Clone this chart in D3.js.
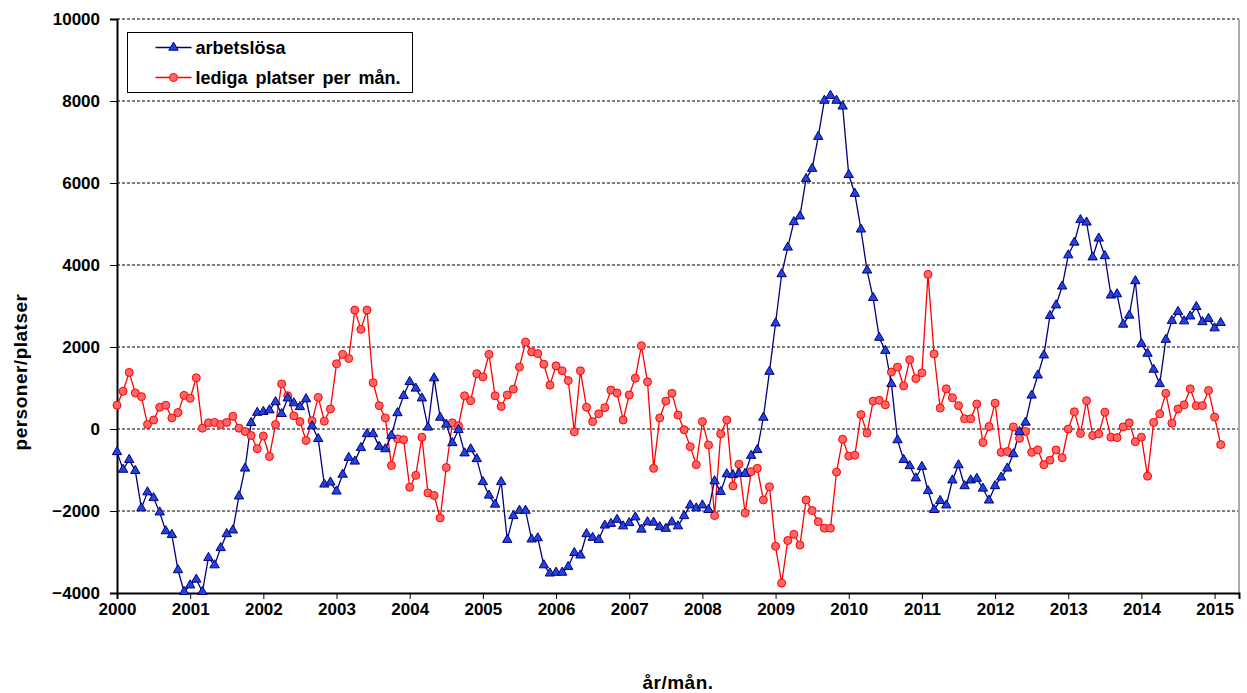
<!DOCTYPE html>
<html>
<head>
<meta charset="utf-8">
<script src="https://cdn.jsdelivr.net/npm/d3@7"></script>
<style>
  body { margin: 0; background: #fff; }
  text { font-family: Arial, "Liberation Sans", sans-serif; font-weight: bold; }
</style>
</head>
<body>
<div id="chart"></div>
<script>
// monthly values, Jan 2000 .. Feb 2015
const arbetslosa = [
  -560,-990,-750,-1020,-1930,-1540,-1680,-2030,-2490,-2580,-3440,-3970,
  -3810,-3670,-3970,-3140,-3320,-2900,-2560,-2470,-1640,-960,150,400,
  420,460,660,370,750,630,540,730,70,-240,-1350,-1300,
  -1520,-1110,-700,-790,-460,-120,-120,-430,-490,-160,390,810,
  1150,990,750,40,1240,280,110,-340,-20,-590,-490,-730,
  -1290,-1620,-1840,-1290,-2700,-2120,-1990,-1990,-2690,-2660,-3320,-3520,
  -3500,-3500,-3360,-3020,-3080,-2560,-2650,-2700,-2350,-2310,-2210,-2370,
  -2290,-2150,-2450,-2270,-2280,-2390,-2430,-2270,-2370,-2120,-1860,-1930,
  -1860,-1970,-1270,-1530,-1100,-1120,-1090,-1090,-650,-510,280,1400,
  2580,3780,4430,5050,5190,6100,6350,7130,8010,8130,8010,7870,
  6200,5740,4870,3870,3200,2230,1910,1100,-270,-750,-900,-1200,
  -920,-1510,-1970,-1750,-1860,-1250,-880,-1390,-1250,-1210,-1450,-1740,
  -1390,-1180,-960,-610,-70,160,820,1310,1800,2760,3020,3480,
  4240,4550,5100,5040,4190,4650,4220,3260,3290,2550,2770,3610,
  2080,1840,1450,1100,2180,2640,2860,2630,2750,2980,2610,2690,
  2460,2590
];
const lediga = [
  580,920,1380,880,790,110,220,530,580,270,400,820,
  750,1250,20,150,160,110,160,310,20,-60,-160,-480,
  -170,-670,110,1100,810,320,180,-280,200,770,190,490,
  1590,1820,1720,2900,2430,2900,1130,570,270,-890,-240,-260,
  -1420,-1130,-200,-1560,-1620,-2170,-940,150,80,810,690,1350,
  1270,1820,810,550,830,970,1510,2120,1880,1840,1580,1070,
  1540,1420,1180,-70,1420,530,180,370,520,950,880,220,
  830,1240,2030,1150,-960,270,680,870,340,-20,-430,-870,
  180,-390,-2110,-120,220,-1390,-860,-2050,-1040,-960,-1730,-1410,
  -2860,-3760,-2720,-2570,-2830,-1730,-1990,-2260,-2420,-2420,-1050,-250,
  -660,-640,350,-100,680,700,590,1390,1510,1050,1690,1230,
  1370,3770,1830,510,980,760,570,250,250,610,-330,60,
  630,-570,-550,50,-230,-60,-570,-510,-870,-760,-510,-700,
  0,420,-110,690,-160,-120,410,-200,-210,50,150,-310,
  -200,-1150,160,370,870,140,490,590,980,570,570,940,
  290,-380
];
const years = d3.range(2000, 2016);
const yTicks = [-4000,-2000,0,2000,4000,6000,8000,10000];
const seriesNames = ["arbetslösa", "lediga platser per mån."];

const W = 1247, H = 693;
const margin = { top: 19, right: 8, bottom: 100, left: 117 };

const svg = d3.select("#chart").append("svg")
  .attr("width", W).attr("height", H);

const x = d3.scaleLinear().domain([0, 184]).range([margin.left, W - margin.right]);
const y = d3.scaleLinear().domain([-4000, 10000]).range([H - margin.bottom, margin.top]);

// gridlines
svg.append("g")
  .selectAll("line")
  .data(yTicks.filter(d => d > -4000))
  .enter().append("line")
  .attr("x1", x(0)).attr("x2", x(184))
  .attr("y1", d => y(d)).attr("y2", d => y(d))
  .attr("stroke", "#000").attr("stroke-width", 1)
  .attr("stroke-dasharray", "3,2");

// right border of plot area
svg.append("line")
  .attr("x1", x(184)).attr("x2", x(184))
  .attr("y1", y(10000)).attr("y2", y(-4000))
  .attr("stroke", "#aaa").attr("stroke-width", 2);

// axes
const yAxis = d3.axisLeft(y).tickValues(yTicks).tickFormat(d3.format("d"))
  .tickSize(7).tickPadding(10);
const gy = svg.append("g").attr("transform", "translate(" + x(0) + ",0)").call(yAxis);
gy.select(".domain").attr("stroke-width", 2);
gy.selectAll("text").style("font-size", "17px").attr("fill", "#000");

const xAxis = d3.axisBottom(x)
  .tickValues(years.map((d, i) => i * 12))
  .tickFormat((d, i) => years[i])
  .tickSize(6).tickPadding(4);
const gx = svg.append("g").attr("transform", "translate(0," + y(-4000) + ")").call(xAxis);
gx.select(".domain").attr("stroke-width", 2);
gx.selectAll("text").style("font-size", "17px").attr("fill", "#000");

// axis titles
svg.append("text")
  .attr("x", (x(0) + x(184)) / 2).attr("y", 689)
  .attr("text-anchor", "middle").style("font-size", "19px").style("letter-spacing", "0.5px")
  .text("år/mån.");
svg.append("text")
  .attr("transform", "translate(27,372) rotate(-90)")
  .attr("text-anchor", "middle").style("font-size", "19px").style("letter-spacing", "0.5px")
  .text("personer/platser");

// lines
const line = d3.line().x((d, i) => x(i)).y(d => y(d));

svg.append("path").datum(lediga)
  .attr("fill", "none").attr("stroke", "#ff0000").attr("stroke-width", 1.3)
  .attr("d", line);
svg.append("path").datum(arbetslosa)
  .attr("fill", "none").attr("stroke", "#000080").attr("stroke-width", 1.3)
  .attr("d", line);

const tri = d3.symbol().type(d3.symbolTriangle).size(38);

svg.append("g").selectAll("circle")
  .data(lediga).enter().append("circle")
  .attr("cx", (d, i) => x(i)).attr("cy", d => y(d)).attr("r", 4)
  .attr("fill", "#ff6666").attr("stroke", "#ff0000").attr("stroke-width", 1);

svg.append("g").selectAll("path")
  .data(arbetslosa).enter().append("path")
  .attr("d", tri)
  .attr("transform", (d, i) => "translate(" + x(i) + "," + y(d) + ")")
  .attr("fill", "#2244dd").attr("stroke", "#000080").attr("stroke-width", 1);

// legend
const lg = svg.append("g").attr("transform", "translate(127.5,32.5)");
lg.append("rect").attr("width", 285).attr("height", 60)
  .attr("fill", "#fff").attr("stroke", "#000").attr("stroke-width", 1);
const rows = lg.selectAll(".row").data(seriesNames).enter().append("g")
  .attr("class", "row")
  .attr("transform", (d, i) => "translate(0," + (15 + i * 30) + ")");
rows.append("line").attr("x1", 28).attr("x2", 64)
  .attr("stroke", (d, i) => i === 0 ? "#000080" : "#ff0000").attr("stroke-width", 1.3);
rows.each(function(d, i) {
  const g = d3.select(this);
  if (i === 0) {
    g.append("path").attr("d", tri).attr("transform", "translate(46,0)")
      .attr("fill", "#2244dd").attr("stroke", "#000080");
  } else {
    g.append("circle").attr("cx", 46).attr("r", 4)
      .attr("fill", "#ff6666").attr("stroke", "#ff0000");
  }
});
rows.append("text").attr("x", 68).attr("dy", "0.35em")
  .style("font-size", "18px").style("word-spacing", "3px").text(d => d);
</script>
</body>
</html>
